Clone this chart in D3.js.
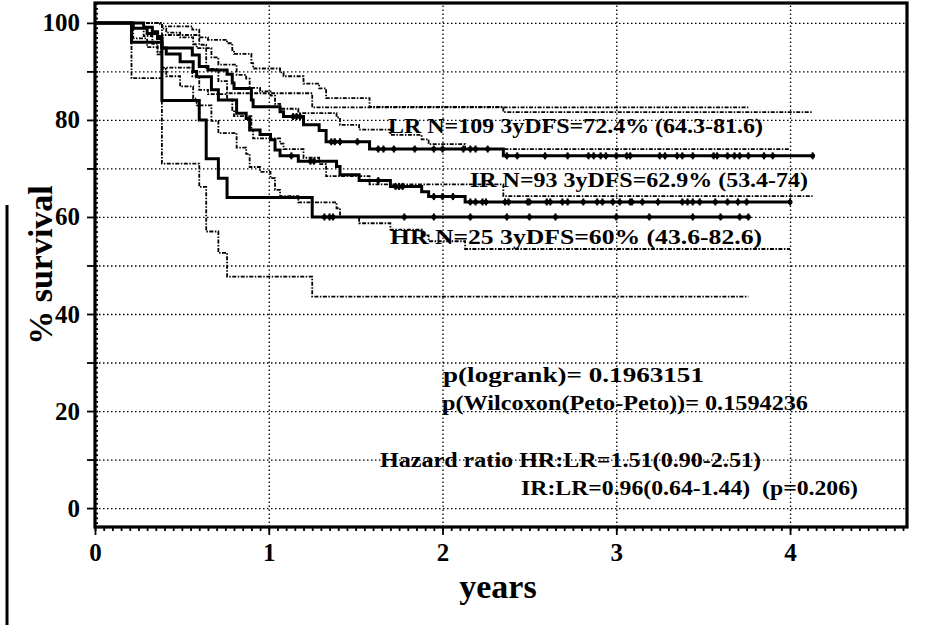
<!DOCTYPE html>
<html>
<head>
<meta charset="utf-8">
<script src="https://cdn.jsdelivr.net/npm/d3@7"></script>
<style>
  body { margin: 0; background: #fff; }
  svg { display: block; }
  text { font-family: "Liberation Serif", "Times New Roman", serif; font-weight: bold; fill: #000; }
</style>
</head>
<body>
<div id="chart"></div>
<script>
// Kaplan-Meier steps (years, % survival)
const lrTimes = [0, 0.28, 0.33, 0.36, 0.385, 0.56, 0.60, 0.65, 0.76, 0.79, 0.80, 0.90, 0.91, 1.065, 1.085, 1.20, 1.29, 1.33, 1.58, 2.35];
const lrSurv = [100, 99.1, 98.2, 97.2, 94.8, 93.4, 91.0, 90.3, 89.4, 87.6, 86.5, 84.1, 82.7, 81.7, 80.7, 79.0, 77.8, 75.5, 74.0, 72.6];
const lrUpper = [100, 100, 100, 100, 99.3, 98.6, 97.0, 96.5, 95.8, 94.4, 93.6, 91.7, 90.6, 89.8, 89.0, 87.5, 86.5, 84.5, 82.7, 81.6];
const lrLower = [100, 97.3, 95.7, 94.0, 90.8, 89.0, 86.2, 85.3, 84.2, 82.1, 80.8, 77.9, 76.2, 75.1, 74.0, 72.2, 70.9, 68.4, 66.7, 64.3];
const lrCensor = [1.14, 1.16, 1.18, 1.36, 1.38, 1.41, 1.51, 1.63, 1.66, 1.72, 1.84, 1.95, 2.0, 2.12, 2.16, 2.19, 2.26, 2.37, 2.43, 2.59, 2.72, 2.84, 2.87, 2.91, 2.94, 3.0, 3.06, 3.08, 3.25, 3.28, 3.35, 3.38, 3.44, 3.56, 3.58, 3.64, 3.68, 3.71, 3.76, 3.85, 3.9, 4.13];
const lrEnd = 4.13;

const irTimes = [0, 0.22, 0.30, 0.36, 0.385, 0.41, 0.49, 0.565, 0.585, 0.67, 0.71, 0.815, 0.87, 0.89, 0.95, 1.01, 1.036, 1.065, 1.17, 1.39, 1.41, 1.52, 1.70, 1.88, 1.92, 2.13];
const irSurv = [100, 98.9, 97.8, 96.8, 94.8, 93.6, 92.0, 90.0, 88.9, 86.2, 84.1, 81.4, 80.3, 77.9, 77.0, 75.9, 73.8, 72.6, 71.5, 70.4, 68.7, 67.5, 66.3, 65.2, 64.2, 63.1];
const irUpper = [100, 100, 100, 99.8, 98.8, 98.0, 97.0, 95.6, 94.8, 92.9, 91.4, 89.3, 88.5, 86.6, 85.9, 85.0, 83.3, 82.3, 81.4, 80.5, 79.0, 78.0, 76.9, 76.0, 75.0, 74.0];
const irLower = [100, 96.8, 95.0, 93.5, 90.5, 89.0, 86.9, 84.4, 83.0, 79.8, 77.3, 74.3, 73.0, 70.3, 69.3, 68.0, 65.6, 64.3, 63.0, 61.8, 60.0, 58.7, 57.4, 56.2, 55.0, 53.4];
const irCensor = [1.13, 1.24, 1.26, 1.63, 1.73, 1.75, 1.77, 1.95, 2.0, 2.06, 2.16, 2.19, 2.23, 2.25, 2.36, 2.38, 2.49, 2.5, 2.6, 2.62, 2.69, 2.72, 2.81, 2.89, 2.92, 2.98, 3.02, 3.08, 3.09, 3.15, 3.24, 3.38, 3.41, 3.44, 3.48, 3.57, 3.64, 3.7, 3.75, 4.0];
const irEnd = 4.0;

const hrTimes = [0, 0.21, 0.385, 0.60, 0.64, 0.71, 0.76, 1.25];
const hrSurv = [100, 96, 84, 80, 72, 68, 64, 60];
const hrUpper = [100, 100, 97.5, 95.5, 90.5, 88.0, 85.5, 82.6];
const hrLower = [100, 88.6, 71.0, 66.2, 57.0, 52.6, 47.7, 43.6];
const hrCensor = [1.32, 1.35, 1.37, 1.78, 1.95, 2.16, 2.37, 2.5, 2.65, 3.0, 3.19, 3.44, 3.6, 3.71, 3.76];
const hrEnd = 3.76;

const yTicks = [0, 20, 40, 60, 80, 100];
const xTicks = [0, 1, 2, 3, 4];

const notes = [
  "LR N=109 3yDFS=72.4% (64.3-81.6)",
  "IR N=93 3yDFS=62.9% (53.4-74)",
  "HR N=25 3yDFS=60% (43.6-82.6)",
  "p(logrank)= 0.1963151",
  "p(Wilcoxon(Peto-Peto))= 0.1594236",
  "Hazard ratio HR:LR=1.51(0.90-2.51)",
  "IR:LR=0.96(0.64-1.44)  (p=0.206)",
];
// left x, baseline y, width in px
const noteLayout = [
  [388, 133, 375],
  [470, 187, 338],
  [390, 244, 372],
  [443, 382, 261],
  [442, 410, 366],
  [380, 467, 381],
  [521, 495, 337],
];

const width = 950;
const height = 625;
const plot = { left: 95, right: 907, top: 3, bottom: 527 };
const serif = '"Liberation Serif", "Times New Roman", serif';

const svg = d3
  .select("#chart")
  .append("svg")
  .attr("width", width)
  .attr("height", height);

const x = d3.scaleLinear().domain([0, 4.673]).range([plot.left, plot.right]);
const y = d3.scaleLinear().domain([-3.9, 104.1]).range([plot.bottom, plot.top]);

// dotted grid
const gridY = svg
  .append("g")
  .attr("transform", `translate(${plot.left},0)`)
  .call(d3.axisLeft(y).tickValues(d3.range(0, 101, 10)).tickSize(-(plot.right - plot.left)).tickFormat(""));
const gridX = svg
  .append("g")
  .attr("transform", `translate(0,${plot.bottom})`)
  .call(d3.axisBottom(x).tickValues([1, 2, 3, 4]).tickSize(-(plot.bottom - plot.top)).tickFormat(""));
svg.selectAll(".domain").remove();
[gridY, gridX].forEach((g) =>
  g.selectAll("line").attr("stroke", "#000").attr("stroke-width", 1.3).attr("stroke-dasharray", "1.5,2.5")
);

// step path helper
function steps(times, vals, end) {
  const pts = times.map((t, i) => [t, vals[i]]);
  pts.push([end, vals[vals.length - 1]]);
  return pts;
}
const stepLine = d3
  .line()
  .x((d) => x(d[0]))
  .y((d) => y(d[1]))
  .curve(d3.curveStepAfter);

const groups = [
  { times: lrTimes, surv: lrSurv, upper: lrUpper, lower: lrLower, censor: lrCensor, end: lrEnd },
  { times: irTimes, surv: irSurv, upper: irUpper, lower: irLower, censor: irCensor, end: irEnd },
  { times: hrTimes, surv: hrSurv, upper: hrUpper, lower: hrLower, censor: hrCensor, end: hrEnd },
];

const curves = svg.append("g");
groups.forEach((g) => {
  [g.upper, g.lower].forEach((band) => {
    curves
      .append("path")
      .attr("d", stepLine(steps(g.times, band, g.end)))
      .attr("fill", "none")
      .attr("stroke", "#000")
      .attr("stroke-width", 1.8)
      .attr("stroke-dasharray", "4,1.5,1.5,1.5");
  });
});
groups.forEach((g) => {
  curves
    .append("path")
    .attr("d", stepLine(steps(g.times, g.surv, g.end)))
    .attr("fill", "none")
    .attr("stroke", "#000")
    .attr("stroke-width", 3);

  const valueAt = (t) => g.surv[d3.bisectRight(g.times, t) - 1];
  const marks = curves.append("g").selectAll("g").data(g.censor).join("g")
    .attr("transform", (t) => `translate(${x(t)},${y(valueAt(t))})`);
  marks.append("line").attr("y1", -3.5).attr("y2", 3.5).attr("stroke", "#000").attr("stroke-width", 2);
  marks.append("circle").attr("r", 2.5).attr("fill", "#000");
});

// frame
svg
  .append("rect")
  .attr("x", plot.left)
  .attr("y", plot.top)
  .attr("width", plot.right - plot.left)
  .attr("height", plot.bottom - plot.top)
  .attr("fill", "none")
  .attr("stroke", "#000")
  .attr("stroke-width", 3.2);

// y axis ticks
svg
  .append("g")
  .attr("transform", `translate(${plot.left},0)`)
  .call(d3.axisLeft(y).tickValues(d3.range(-3, 105, 1)).tickSize(-3).tickFormat(""));
const yAxis = svg
  .append("g")
  .attr("transform", `translate(${plot.left},0)`)
  .call(
    d3.axisLeft(y)
      .tickValues(d3.range(0, 101, 10))
      .tickSize(8)
      .tickPadding(7)
      .tickFormat((d) => (yTicks.includes(d) ? d : ""))
  );

// x axis ticks
svg
  .append("g")
  .attr("transform", `translate(0,${plot.bottom})`)
  .call(d3.axisBottom(x).tickValues(d3.range(0, 4.66, 0.05)).tickSize(4).tickFormat(""));
const xAxis = svg
  .append("g")
  .attr("transform", `translate(0,${plot.bottom})`)
  .call(d3.axisBottom(x).tickValues(xTicks).tickSize(8).tickPadding(8).tickFormat(d3.format("d")));

svg.selectAll(".domain").remove();
svg.selectAll(".tick line").filter(function () { return !this.getAttribute("stroke-dasharray"); })
  .attr("stroke", "#000").attr("stroke-width", 1.8);
[yAxis, xAxis].forEach((a) => {
  a.attr("font-family", serif).attr("font-size", 25);
  a.selectAll("text").attr("font-family", serif).attr("font-weight", "bold").attr("fill", "#000");
});

// axis titles
svg
  .append("text")
  .attr("transform", "translate(52,265) rotate(-90)")
  .attr("text-anchor", "middle")
  .attr("font-size", 34)
  .text("% survival");
svg
  .append("text")
  .attr("x", 498)
  .attr("y", 598)
  .attr("text-anchor", "middle")
  .attr("font-size", 34)
  .text("years");

// annotations
svg
  .append("g")
  .selectAll("text")
  .data(notes)
  .join("text")
  .attr("x", (d, i) => noteLayout[i][0])
  .attr("y", (d, i) => noteLayout[i][1])
  .attr("textLength", (d, i) => noteLayout[i][2])
  .attr("lengthAdjust", "spacingAndGlyphs")
  .attr("font-size", 20)
  .style("white-space", "pre")
  .text((d) => d);

// page edge line at the left
svg
  .append("line")
  .attr("x1", 7)
  .attr("x2", 7)
  .attr("y1", 205)
  .attr("y2", height)
  .attr("stroke", "#000")
  .attr("stroke-width", 3);
</script>
</body>
</html>
